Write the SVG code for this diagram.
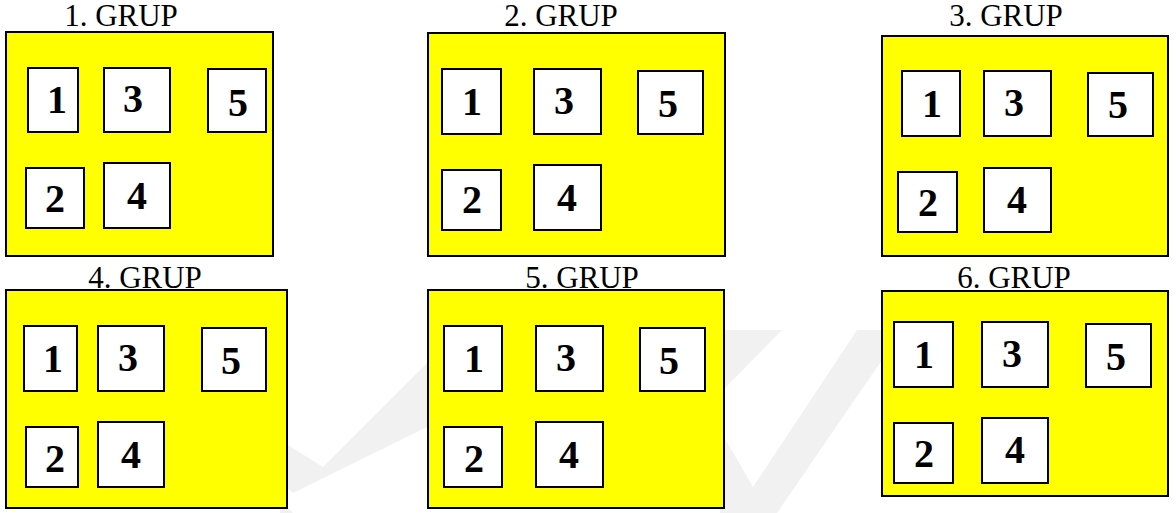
<svg xmlns="http://www.w3.org/2000/svg" width="1176" height="513" viewBox="0 0 1176 513">
<style>
.wm{fill:#f1f1f1;stroke:none}
.grp{fill:#ffff00;stroke:#000;stroke-width:2}
.box{fill:#fff;stroke:#000;stroke-width:2}
.title{font-family:"Liberation Serif","Times New Roman",serif;font-size:31px;fill:#000;text-anchor:middle}
.num{font-family:"Liberation Serif","Times New Roman",serif;font-size:40px;font-weight:bold;fill:#000;text-anchor:middle}
</style>
<rect width="1176" height="513" fill="#fff"/>
<g id="watermark">
<polygon class="wm" points="280,440 323,467 427,363 427,427 293,493 280,482"/>
<polygon class="wm" points="280,500 293,513 280,513"/>
<polygon class="wm" points="720,330 782,330 720,393"/>
<polygon class="wm" points="720,430 753,487 857,330 882,330 882,360 777,513 720,513"/>
</g>
<g id="group1">
<text class="title" x="121" y="26">1. GRUP</text>
<rect class="grp" x="6" y="32" width="267" height="224"/>
<rect class="box" x="28" y="68" width="50" height="64"/><text class="num" x="57" y="113">1</text>
<rect class="box" x="104" y="68" width="66" height="64"/><text class="num" x="133" y="112">3</text>
<rect class="box" x="208" y="69" width="58" height="63"/><text class="num" x="238" y="116">5</text>
<rect class="box" x="26" y="168" width="58" height="60"/><text class="num" x="55" y="212">2</text>
<rect class="box" x="104" y="163" width="66" height="65"/><text class="num" x="137" y="209">4</text>
</g>
<g id="group2">
<text class="title" x="561" y="26">2. GRUP</text>
<rect class="grp" x="428" y="33" width="297" height="223"/>
<rect class="box" x="442" y="69" width="59" height="65"/><text class="num" x="472" y="115">1</text>
<rect class="box" x="534" y="69" width="67" height="65"/><text class="num" x="564" y="114">3</text>
<rect class="box" x="638" y="71" width="65" height="63"/><text class="num" x="668" y="117">5</text>
<rect class="box" x="442" y="170" width="59" height="60"/><text class="num" x="472" y="213">2</text>
<rect class="box" x="534" y="165" width="67" height="65"/><text class="num" x="567" y="211">4</text>
</g>
<g id="group3">
<text class="title" x="1006" y="26">3. GRUP</text>
<rect class="grp" x="882" y="36" width="286" height="220"/>
<rect class="box" x="902" y="71" width="58" height="65"/><text class="num" x="932" y="117">1</text>
<rect class="box" x="984" y="71" width="67" height="65"/><text class="num" x="1014" y="116">3</text>
<rect class="box" x="1088" y="73" width="65" height="63"/><text class="num" x="1118" y="118">5</text>
<rect class="box" x="898" y="172" width="59" height="60"/><text class="num" x="928" y="216">2</text>
<rect class="box" x="984" y="168" width="67" height="64"/><text class="num" x="1017" y="213">4</text>
</g>
<g id="group4">
<text class="title" x="145" y="288">4. GRUP</text>
<rect class="grp" x="6" y="290" width="281" height="218"/>
<rect class="box" x="24" y="326" width="53" height="65"/><text class="num" x="53" y="372">1</text>
<rect class="box" x="98" y="326" width="66" height="65"/><text class="num" x="128" y="371">3</text>
<rect class="box" x="202" y="328" width="64" height="63"/><text class="num" x="231" y="374">5</text>
<rect class="box" x="26" y="427" width="52" height="60"/><text class="num" x="55" y="472">2</text>
<rect class="box" x="98" y="422" width="66" height="65"/><text class="num" x="131" y="468">4</text>
</g>
<g id="group5">
<text class="title" x="582" y="288">5. GRUP</text>
<rect class="grp" x="428" y="290" width="296" height="218"/>
<rect class="box" x="444" y="326" width="58" height="65"/><text class="num" x="474" y="372">1</text>
<rect class="box" x="536" y="326" width="67" height="65"/><text class="num" x="566" y="371">3</text>
<rect class="box" x="640" y="328" width="65" height="63"/><text class="num" x="669" y="374">5</text>
<rect class="box" x="444" y="427" width="58" height="60"/><text class="num" x="474" y="472">2</text>
<rect class="box" x="536" y="422" width="67" height="65"/><text class="num" x="569" y="468">4</text>
</g>
<g id="group6">
<text class="title" x="1014" y="288">6. GRUP</text>
<rect class="grp" x="882" y="291" width="286" height="205"/>
<rect class="box" x="894" y="322" width="59" height="65"/><text class="num" x="924" y="368">1</text>
<rect class="box" x="982" y="322" width="66" height="65"/><text class="num" x="1012" y="367">3</text>
<rect class="box" x="1086" y="324" width="65" height="63"/><text class="num" x="1116" y="370">5</text>
<rect class="box" x="894" y="423" width="59" height="60"/><text class="num" x="924" y="467">2</text>
<rect class="box" x="982" y="418" width="66" height="65"/><text class="num" x="1015" y="463">4</text>
</g>
<g id="connectors"></g>
</svg>
